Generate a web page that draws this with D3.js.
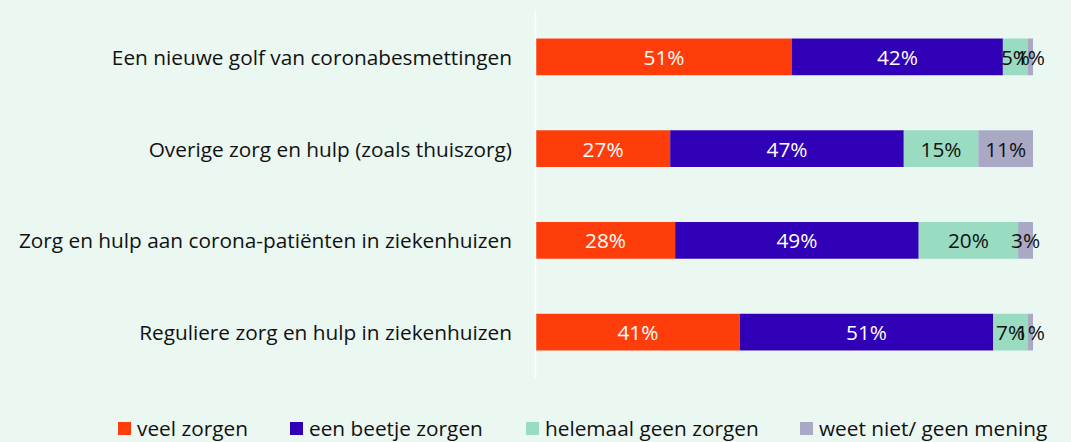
<!DOCTYPE html>
<html><head><meta charset="utf-8">
<script src="https://cdn.jsdelivr.net/npm/d3@7"></script>
<style>
html,body{margin:0;padding:0;background:#EBF7F1;}
svg{display:block;font-family:"Open Sans", Lato, sans-serif;}
</style></head>
<body>
<svg id="chart" width="1071" height="442"></svg>
<script>
const categories = [
  "Een nieuwe golf van coronabesmettingen",
  "Overige zorg en hulp (zoals thuiszorg)",
  "Zorg en hulp aan corona-patiënten in ziekenhuizen",
  "Reguliere zorg en hulp in ziekenhuizen"
];
const seriesNames = ["veel zorgen","een beetje zorgen","helemaal geen zorgen","weet niet/ geen mening"];
const veel = [51, 27, 28, 41];
const beetje = [42, 47, 49, 51];
const geen = [5, 15, 20, 7];
const weetNiet = [1, 11, 3, 1];
const colors = ["#FF3D0A","#3000B6","#99DCC2","#A9A9C5"];
const labelColors = ["#ffffff","#ffffff","#111111","#111111"];

const rows = categories.map((c,i)=>({cat:c, s0:veel[i], s1:beetje[i], s2:geen[i], s3:weetNiet[i]}));
const keys = ["s0","s1","s2","s3"];
const stack = d3.stack().keys(keys).offset(d3.stackOffsetExpand);
const series = stack(rows);

const svg = d3.select("#chart");
const x = d3.scaleLinear().domain([0,1]).range([536,1033]);
const y = d3.scaleBand().domain(categories).range([11,378]).paddingInner(0.6).paddingOuter(0.3);

const fontSize = 20.8;

const g = svg.append("g");
series.forEach((s,k)=>{
  g.selectAll(null).data(s).enter().append("rect")
    .attr("x", d=>x(d[0])).attr("y", d=>y(d.data.cat))
    .attr("width", d=>x(d[1])-x(d[0])).attr("height", y.bandwidth())
    .attr("fill", colors[k]);
});
svg.append("line").attr("x1",535.5).attr("x2",535.5).attr("y1",11).attr("y2",378)
  .attr("stroke","#ffffff").attr("stroke-width",1.5);

series.forEach((s,k)=>{
  g.selectAll(null).data(s).enter().append("text")
    .attr("x", d=>(x(d[0])+x(d[1]))/2).attr("y", d=>y(d.data.cat)+y.bandwidth()/2)
    .attr("text-anchor","middle").attr("dominant-baseline","central")
    .attr("font-size",fontSize).attr("fill",labelColors[k])
    .text(d=>d.data[keys[k]]+"%");
});

svg.selectAll(null).data(categories).enter().append("text")
  .attr("x",512).attr("y",d=>y(d)+y.bandwidth()/2)
  .attr("text-anchor","end").attr("dominant-baseline","central")
  .attr("font-size",fontSize).attr("fill","#111111").text(d=>d);

const legX = [118, 290, 526, 800];
const leg = svg.append("g");
seriesNames.forEach((n,i)=>{
  leg.append("rect").attr("x",legX[i]).attr("y",422).attr("width",13).attr("height",13).attr("fill",colors[i]);
  leg.append("text").attr("x",legX[i]+19).attr("y",428).attr("dominant-baseline","central")
    .attr("font-size",fontSize).attr("fill","#111111").text(n);
});
</script>
</body></html>
